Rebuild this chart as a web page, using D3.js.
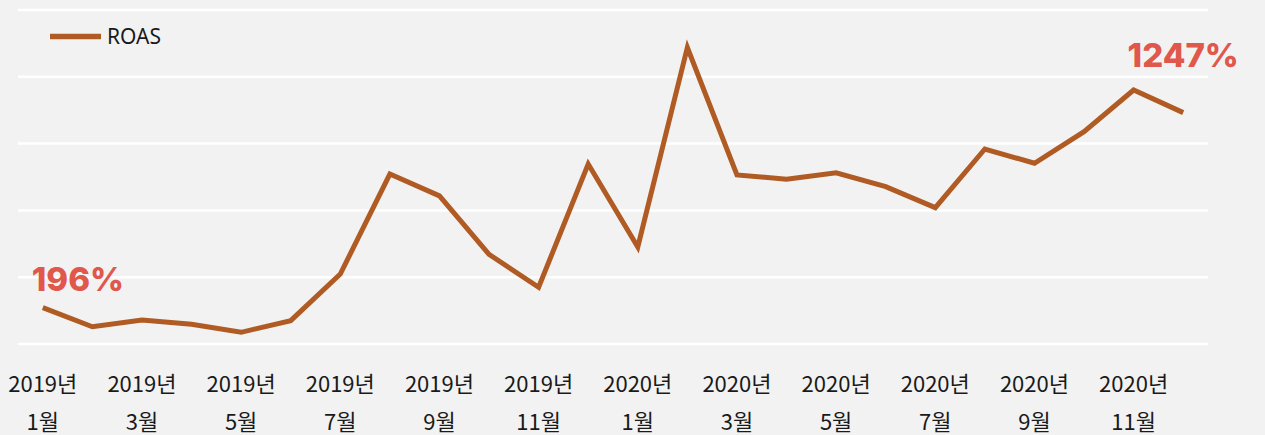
<!DOCTYPE html>
<html lang="ko">
<head>
  <meta charset="UTF-8">
  <title>ROAS</title>
  <style>
    html, body { margin: 0; padding: 0; background: #f2f2f2; }
    svg { display: block; }
    .grid line { stroke: #ffffff; stroke-width: 2.5; }
    .axis text { font-family: "Noto Sans CJK KR", "Noto Sans", sans-serif; font-size: 22px; fill: #1a1a1a; }
    .legend text { font-family: "Noto Sans", "Open Sans", sans-serif; font-size: 21px; fill: #1a1a1a; }
    .note { font-family: Inter, "Noto Sans", sans-serif; font-weight: 800; font-size: 33px; fill: #e0574b; }
  </style>
</head>
<body>
  <svg id="chart" width="1265" height="435"></svg>

  <script src="https://cdn.jsdelivr.net/npm/d3@7"></script>
  <script>
    // monthly ROAS (%), 2019-01 .. 2020-12
    const years  = ["2019", "2019", "2019", "2019", "2019", "2019", "2019", "2019", "2019", "2019", "2019", "2019",
                    "2020", "2020", "2020", "2020", "2020", "2020", "2020", "2020", "2020", "2020", "2020", "2020"];
    const months = [1, 2, 3, 4, 5, 6, 7, 8, 9, 10, 11, 12, 1, 2, 3, 4, 5, 6, 7, 8, 9, 10, 11, 12];
    const roas   = [196, 93, 129, 106, 63, 126, 377, 916, 798, 483, 306, 970,
                    523, 1598, 911, 888, 923, 848, 735, 1051, 974, 1144, 1369, 1247];
    const gridTicks = [0, 360, 720, 1080, 1440, 1800];
    const notes = [{ i: 0, text: "196%" }, { i: 23, text: "1247%" }];

    const svg = d3.select("#chart");
    const plotL = 18, plotR = 1208, plotT = 10, plotB = 344;

    const keys = months.map((m, i) => i);
    const x = d3.scaleBand().domain(keys).range([plotL, plotR]);
    const y = d3.scaleLinear().domain([0, 1800]).range([plotB, plotT]);
    const cx = i => x(i) + x.bandwidth() / 2;

    // horizontal grid
    svg.append("g").attr("class", "grid")
      .selectAll("line").data(gridTicks).join("line")
      .attr("x1", plotL).attr("x2", plotR)
      .attr("y1", d => y(d)).attr("y2", d => y(d));

    // x labels, every second month, two lines
    const xAxis = d3.axisBottom(x)
      .tickValues(keys.filter(i => i % 2 === 0))
      .tickSize(0)
      .tickFormat("");
    const ax = svg.append("g").attr("class", "axis")
      .attr("transform", `translate(0,${plotB})`)
      .call(xAxis);
    ax.select(".domain").remove();
    ax.selectAll(".tick text").remove();
    ax.selectAll(".tick").append("text")
      .attr("text-anchor", "middle")
      .attr("y", 48).text(i => years[i] + "년");
    ax.selectAll(".tick").append("text")
      .attr("text-anchor", "middle")
      .attr("y", 86).text(i => months[i] + "월");

    // the line
    const line = d3.line().x((d, i) => cx(i)).y(d => y(d));
    svg.append("path")
      .datum(roas)
      .attr("d", line)
      .attr("fill", "none")
      .attr("stroke", "#b05b24")
      .attr("stroke-width", 5)
      .attr("stroke-linejoin", "miter");

    // callouts on first and last value
    svg.selectAll(".note").data(notes).join("text")
      .attr("class", "note")
      .attr("text-anchor", d => d.i === 0 ? "start" : "middle")
      .attr("x", d => d.i === 0 ? cx(d.i) - 11 : cx(d.i))
      .attr("y", d => d.i === 0 ? y(roas[d.i]) - 17 : y(roas[d.i]) - 46)
      .text(d => d.text);

    // legend
    const lg = svg.append("g").attr("class", "legend");
    lg.append("line")
      .attr("x1", 50).attr("x2", 101).attr("y1", 36.5).attr("y2", 36.5)
      .attr("stroke", "#b05b24").attr("stroke-width", 5.5);
    lg.append("text").attr("x", 107).attr("y", 44).text("ROAS");
  </script>
</body>
</html>
